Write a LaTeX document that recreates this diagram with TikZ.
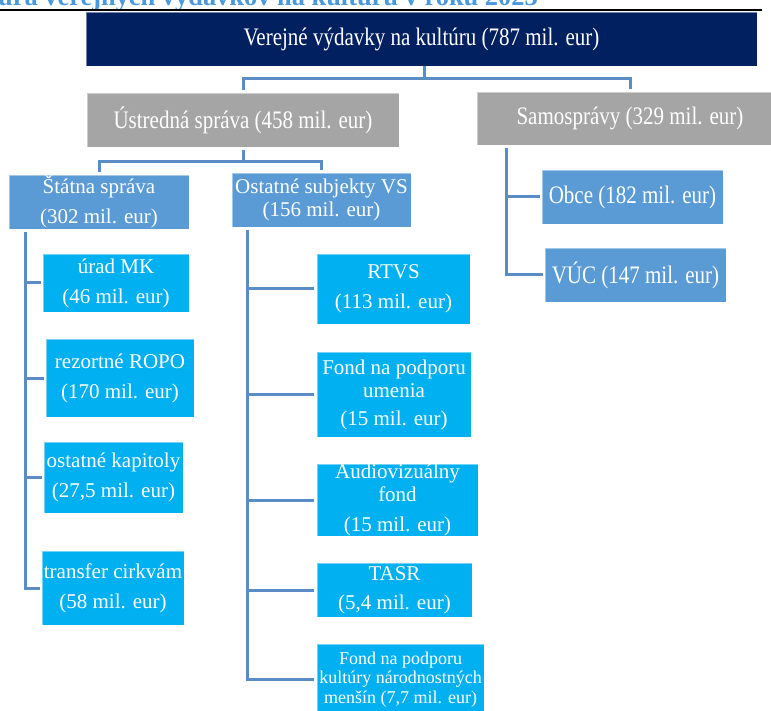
\documentclass[tikz,border=0pt]{standalone}
\usepackage{graphicx}
\usepackage{fontspec}
\setmainfont{Liberation Serif}
\definecolor{navyc}{HTML}{002060}
\definecolor{grayc}{HTML}{A5A5A5}
\definecolor{midc}{HTML}{5B9BD5}
\definecolor{cyanc}{HTML}{00B0F0}
\definecolor{connc}{HTML}{5A8CC6}
\definecolor{titlec}{HTML}{4A98DE}
\newcommand\talltext[1]{\scalebox{1}[1.2]{#1}}
\begin{document}
\begin{tikzpicture}[x=1pt,y=-1pt,
  box/.style={rectangle, inner sep=0pt, align=center, text=white,
    draw=white, draw opacity=0.45, line width=0.8pt,
    font=\fontsize{21}{23}\selectfont},
  sz/.style 2 args={minimum width=#1pt, minimum height=#2pt},
  navyb/.style={box, fill=navyc},
  grayb/.style={box, fill=grayc},
  midb/.style={box, fill=midc},
  cyanb/.style={box, fill=cyanc},
  conn/.style={draw=connc, line width=3pt}]
\useasboundingbox (0,0) rectangle (771,711);
\clip (0,0) rectangle (771,711);

% partial title and rule
\node[anchor=base east, inner sep=0pt, text=titlec,
  font=\fontsize{26.4}{30}\selectfont\bfseries] (title) at (538,6)
  {Štruktúra verejných výdavkov na kultúru v roku 2023};
\draw[black, line width=2pt] (0,10.5) -- (762,10.5);

% boxes
\node[navyb, sz={671}{54}] (top) at (421.5,39) {\talltext{Verejné výdavky na kultúru (787 mil. eur)}};
\node[grayb, sz={312}{54}] (ustr) at (243,120) {\talltext{Ústredná správa (458 mil. eur)}};
\node[grayb, sz={306}{53}] (samo) at (630,118.5) {\talltext{Samosprávy (329 mil. eur)}};

\node[midb, sz={180}{54}] (statna) at (99,202) {Štátna správa\\[7pt](302 mil. eur)};
\node[midb, sz={179}{54}] (ostat) at (321.5,200) {Ostatné subjekty VS\\(156 mil. eur)};

\node[cyanb, sz={146}{58}] (urad) at (116,283) {úrad MK\\[7pt](46 mil. eur)};
\node[cyanb, sz={148}{78}] (ropo) at (120,378) {rezortné ROPO\\[7pt](170 mil. eur)};
\node[cyanb, sz={139}{71}] (kap) at (113.5,477.5) {ostatné kapitoly\\[7pt](27,5 mil. eur)};
\node[cyanb, sz={142}{74}] (cirk) at (113,588) {transfer cirkvám\\[7pt](58 mil. eur)};

\node[cyanb, sz={153}{70}] (rtvs) at (393.5,289) {RTVS\\[7pt](113 mil. eur)};
\node[cyanb, sz={154}{85}] (umen) at (394,394.5) {Fond na podporu\\umenia\\[5pt](15 mil. eur)};
\node[cyanb, sz={161}{72}] (audio) at (397.5,500) {Audiovizuálny\\fond\\[7pt](15 mil. eur)};
\node[cyanb, sz={155}{54}] (tasr) at (394.5,590) {TASR\\[6pt](5,4 mil. eur)};
\node[cyanb, sz={167}{71}, font=\fontsize{18}{19.5}\selectfont] (mens) at (400.5,679.5)
  {Fond na podporu\\kultúry národnostných\\menšín (7,7 mil. eur)};

\node[midb, sz={181}{54}] (obce) at (632.5,197) {\talltext{Obce (182 mil. eur)}};
\node[midb, sz={181}{54}] (vuc) at (635.5,275) {\talltext{VÚC (147 mil. eur)}};

% connectors: level 1
\draw[conn] ([xshift=2.5pt]top.south) -- ++(0,12) coordinate (tj);
\draw[conn] ([yshift=3pt]ustr.north) |- (tj) -| ([yshift=3pt]samo.north);

% level 2
\draw[conn] ([yshift=-3pt]ustr.south) -- ++(0,11) coordinate (uj);
\draw[conn] ([yshift=3pt]statna.north) |- (uj) -| ([yshift=3pt]ostat.north);

% Statna sprava spine
\coordinate (sv) at ([xshift=17pt,yshift=-3pt]statna.south west);
\draw[conn] (sv) |- ([xshift=-2pt]cirk.west);
\foreach \n in {urad,ropo,kap}
  \draw[conn] (\n.west -| sv) -- ([xshift=-2pt]\n.west);

% Ostatne subjekty spine
\coordinate (ov) at ([xshift=16pt,yshift=-3pt]ostat.south west);
\draw[conn] (ov) |- ([xshift=-3pt]mens.west);
\foreach \n in {rtvs,umen,audio,tasr}
  \draw[conn] (\n.west -| ov) -- ([xshift=-3pt]\n.west);

% Samospravy spine
\coordinate (sm) at ([xshift=30pt,yshift=-3pt]samo.south west);
\draw[conn] (sm) |- ([xshift=-2pt]vuc.west);
\draw[conn] (obce.west -| sm) -- ([xshift=-2pt]obce.west);
\end{tikzpicture}
\end{document}
